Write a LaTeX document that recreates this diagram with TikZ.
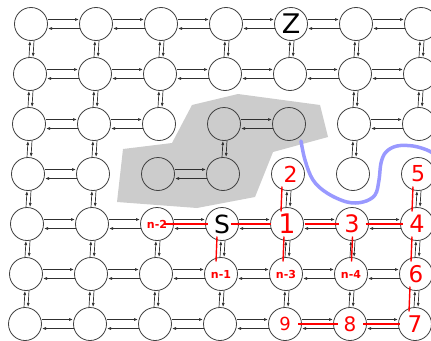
\documentclass[tikz,border=0pt]{standalone}
\usepackage{fontspec}
\setmainfont{DejaVu Sans}
\usetikzlibrary{arrows.meta}

\definecolor{cellline}{RGB}{64,64,64}
\definecolor{arrowline}{RGB}{48,48,48}
\definecolor{region}{RGB}{204,204,204}
\definecolor{barrier}{RGB}{153,153,255}
\definecolor{pathred}{RGB}{255,0,0}

% labels of the cells, looked up by column and row
\newcommand\setlab[3]{\expandafter\def\csname cellLab#1#2\endcsname{#3}}
\newcommand\redbig[2]{\color{pathred}\fontsize{#1}{#1}\selectfont #2}
\newcommand\redsmall[1]{\color{pathred}\bfseries\fontsize{11}{11}\selectfont #1}
\newcommand\blackbig[2]{\fontsize{#1}{#1}\selectfont #2}

\setlab{4}{0}{\blackbig{27}{Z}}
\setlab{4}{3}{\redbig{22}{\hspace*{5pt}\raisebox{-3pt}{2}}}
\setlab{6}{3}{\redbig{22}{5}}
\setlab{2}{4}{\redsmall{n-2}}
\setlab{3}{4}{\blackbig{25}{S}}
\setlab{4}{4}{\redbig{27}{1}}
\setlab{5}{4}{\redbig{24}{3}}
\setlab{6}{4}{\redbig{24}{4}}
\setlab{3}{5}{\redsmall{n-1}}
\setlab{4}{5}{\redsmall{n-3}}
\setlab{5}{5}{\redsmall{n-4}}
\setlab{6}{5}{\redbig{23}{6}}
\setlab{4}{6}{\redbig{18}{9}}
\setlab{5}{6}{\redbig{20}{8}}
\setlab{6}{6}{\redbig{23}{7}}

% pair of opposite arrows between horizontal / vertical neighbours
\newcommand\hlink[2]{%
  \draw[arr] ([yshift=4.5pt]#1.east) -- ([yshift=4.5pt]#2.west);
  \draw[arr] ([yshift=-4.5pt]#2.west) -- ([yshift=-4.5pt]#1.east);}
\newcommand\vlink[2]{%
  \draw[arr] ([xshift=-1pt]#2.north) -- ([xshift=-1pt]#1.south);
  \draw[arr] ([xshift=3pt]#1.south) -- ([xshift=3pt]#2.north);}
% red path segments
\newcommand\hred[4]{\draw[redline] ([xshift=-#3pt]#1.east) -- ([xshift=#4pt]#2.west);}
\newcommand\vred[3]{\draw[redline] ([xshift=#3pt,yshift=4pt]#1.south) -- ([xshift=#3pt,yshift=-4pt]#2.north);}

\begin{document}
\begin{tikzpicture}[x=1pt,y=-1pt,
  cell/.style={circle,draw=cellline,line width=0.8pt,minimum size=33pt,inner sep=0pt,outer sep=0pt},
  arr/.style={draw=arrowline,line width=0.7pt,-{Latex[length=4pt,width=3pt]},shorten >=0.5pt},
  redline/.style={draw=pathred,line width=1.4pt}]
\useasboundingbox (0,0) rectangle (431,340);
\clip (0,0) rectangle (431,340);

% obstacle region
\fill[region] (123,149) -- (172,143) -- (192,105) -- (238,94) -- (320,105)
  -- (328,137) -- (273,152) -- (255,197) -- (197,208) -- (117,202) -- cycle;

% wall
\draw[barrier,line width=3.5pt,line cap=round] plot[smooth,tension=0.6] coordinates {
  (301,141) (305,160) (313,180) (327,193) (347,202) (363,202) (375,195)
  (379,180) (381,163) (386,152) (397,146) (413,146) (427,150) (434,154)};

% grid of cells
\foreach \cc in {0,...,6}{
  \foreach \rr in {0,...,6}{
    \node[cell] (c\cc\rr) at ({31+65*\cc-\rr},{24+50*\rr})
      {\ifcsname cellLab\cc\rr\endcsname\csname cellLab\cc\rr\endcsname\fi};
  }
}

% horizontal links
\foreach \rr in {0,1,4,5,6}{
  \foreach \cc [evaluate=\cc as \nn using int(\cc+1)] in {0,...,5}{
    \hlink{c\cc\rr}{c\nn\rr}
  }
}
\hlink{c02}{c12} \hlink{c12}{c22} \hlink{c32}{c42} \hlink{c52}{c62}
\hlink{c03}{c13} \hlink{c23}{c33}

% vertical links
\foreach \cc in {0,...,6}{
  \vlink{c\cc0}{c\cc1}
  \vlink{c\cc4}{c\cc5}
  \vlink{c\cc5}{c\cc6}
}
\foreach \cc in {0,1,2,5,6}{\vlink{c\cc1}{c\cc2}}
\foreach \cc in {0,1,3,5}{\vlink{c\cc2}{c\cc3}}
\foreach \cc in {0,1,4,6}{\vlink{c\cc3}{c\cc4}}

% red path
\hred{c24}{c34}{10}{2}
\hred{c34}{c44}{8}{0}
\hred{c44}{c54}{-1}{3}
\hred{c54}{c64}{3}{2}
\hred{c46}{c56}{3.5}{4.5}
\hred{c56}{c66}{3.5}{1.5}
\vred{c43}{c44}{-6}
\vred{c63}{c64}{-5}
\vred{c34}{c35}{-5}
\vred{c44}{c45}{-3}
\vred{c54}{c55}{0.5}
\vred{c64}{c65}{-5}
\vred{c65}{c66}{-6}
\end{tikzpicture}
\end{document}
